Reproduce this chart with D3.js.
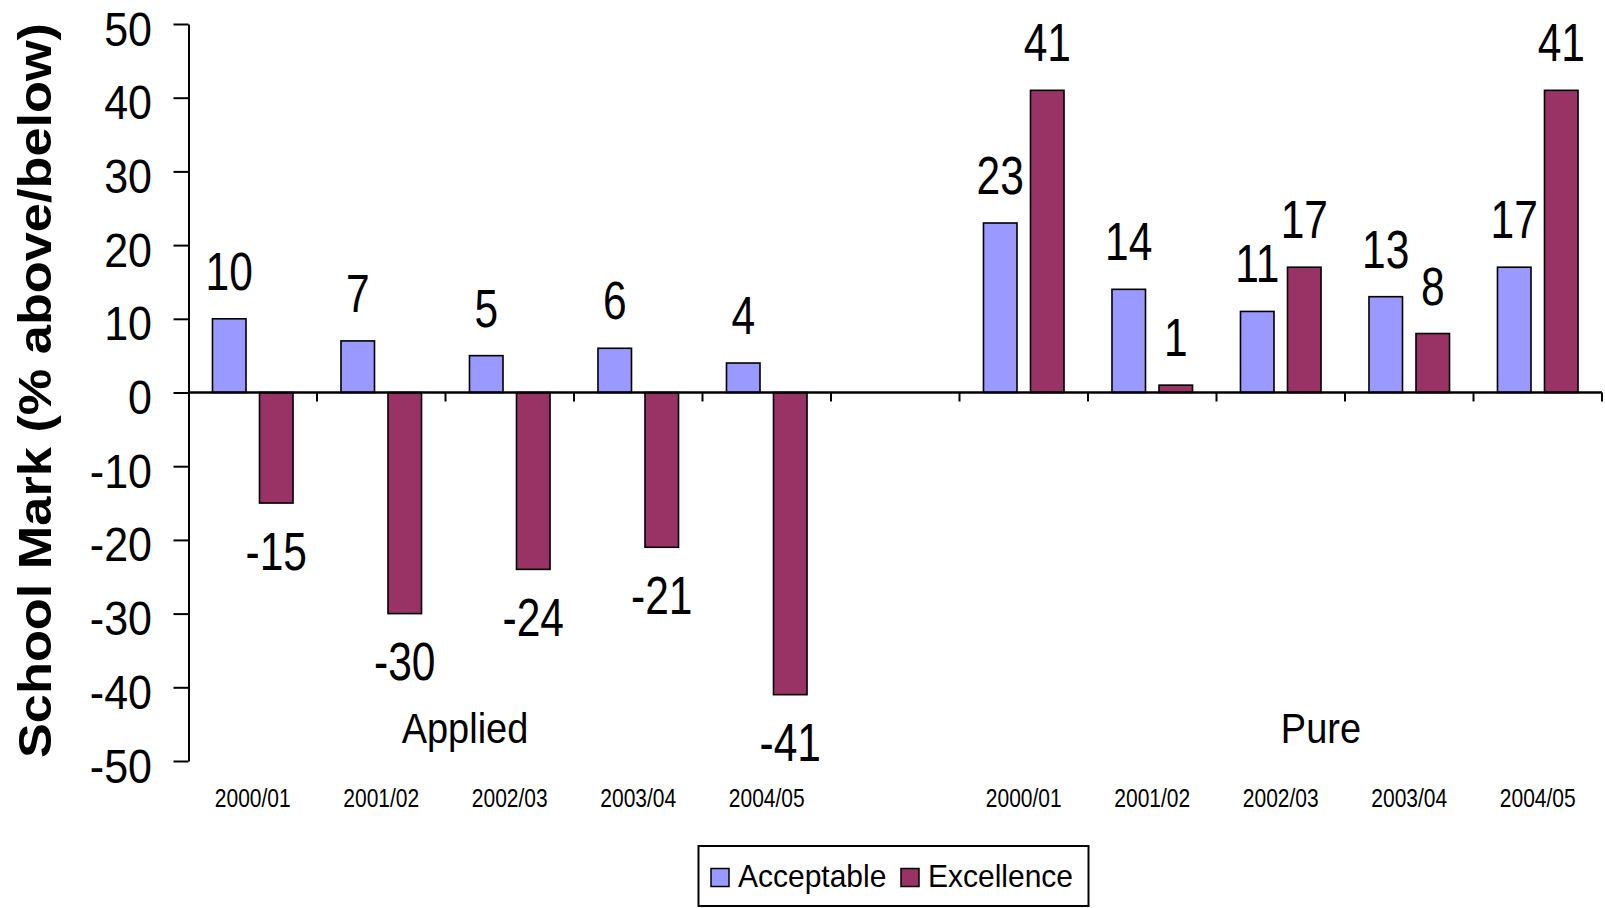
<!DOCTYPE html>
<html>
<head>
<meta charset="utf-8">
<script src="https://cdn.jsdelivr.net/npm/d3@7"></script>
<style>
  html, body { margin: 0; padding: 0; background: #ffffff; }
  svg { display: block; }
  text { font-family: "Liberation Sans", Arial, Helvetica, sans-serif; fill: #000; }
</style>
</head>
<body>
<svg id="chart" width="1605" height="908"></svg>
<script>
// ---- data ----
const categories = ["2000/01", "2001/02", "2002/03", "2003/04", "2004/05"];
const groups = ["Applied", "Pure"];
const series = ["Acceptable", "Excellence"];
const appliedAcceptable = [10, 7, 5, 6, 4];
const appliedExcellence = [-15, -30, -24, -21, -41];
const pureAcceptable = [23, 14, 11, 13, 17];
const pureExcellence = [41, 1, 17, 8, 41];
const yTickValues = [-50, -40, -30, -20, -10, 0, 10, 20, 30, 40, 50];
const yTitle = "School Mark (% above/below)";

// ---- layout ----
const plot = { left: 188.5, right: 1602, top: 24, bottom: 761 };
const colors = { Acceptable: "#9999ff", Excellence: "#993366" };
const groupLabelX = { Applied: 465, Pure: 1321 };
const groupLabelBaseline = 743;
const categoryLabelBaseline = 807;

// One slot per category per group, with an empty slot separating the groups.
const rows = [];
groups.forEach((g, gi) => {
  const acc = gi === 0 ? appliedAcceptable : pureAcceptable;
  const exc = gi === 0 ? appliedExcellence : pureExcellence;
  categories.forEach((c, i) => {
    rows.push({ key: g + "|" + c, group: g, category: c,
                values: [{ s: "Acceptable", v: acc[i] }, { s: "Excellence", v: exc[i] }] });
  });
});
const slotKeys = [];
rows.forEach((r, i) => {
  slotKeys.push(r.key);
  if (i === categories.length - 1) slotKeys.push("separator");
});

const svg = d3.select("#chart");

const x0 = d3.scaleBand().domain(slotKeys).range([plot.left, plot.right]).padding(0);
const x1 = d3.scaleBand().domain(series).range([0, x0.bandwidth()])
  .paddingInner(0.287).paddingOuter(0.51);
const y = d3.scaleLinear().domain([-50, 50]).range([plot.bottom, plot.top]);

// text drawn at a baseline, optionally stretched vertically
function label(parent, x, baseline, str, size, sy, anchor, weight) {
  const g = parent.append("g")
    .attr("transform", `translate(${x},${baseline}) scale(1,${sy})`);
  g.append("text")
    .attr("x", 0).attr("y", 0)
    .attr("text-anchor", anchor || "middle")
    .attr("font-size", size)
    .attr("font-weight", weight || "normal")
    .text(str);
  return g;
}

// ---- bars ----
const barLayer = svg.append("g");
rows.forEach(r => {
  const g = barLayer.append("g").attr("transform", `translate(${x0(r.key)},0)`);
  g.selectAll("rect").data(r.values).join("rect")
    .attr("x", d => x1(d.s))
    .attr("width", x1.bandwidth())
    .attr("y", d => y(Math.max(0, d.v)))
    .attr("height", d => Math.abs(y(d.v) - y(0)))
    .attr("fill", d => colors[d.s])
    .attr("stroke", "#000")
    .attr("stroke-width", 1.6);
});

// ---- y axis ----
const yAxis = d3.axisLeft(y).tickValues(yTickValues).tickSize(15).tickSizeOuter(0).tickFormat("");
const yG = svg.append("g").attr("transform", `translate(${plot.left},0)`).call(yAxis);
yG.select(".domain").attr("stroke", "#000").attr("stroke-width", 2);
yG.selectAll(".tick line").attr("stroke", "#000").attr("stroke-width", 2);
yTickValues.forEach(v => {
  label(svg, 152, y(v) + 21.5, String(v), 43, 1.1, "end");
});

// ---- x axis (zero line with ticks at category boundaries) ----
const xAxisG = svg.append("g");
xAxisG.append("line")
  .attr("x1", plot.left).attr("x2", plot.right)
  .attr("y1", y(0)).attr("y2", y(0))
  .attr("stroke", "#000").attr("stroke-width", 2.5);
xAxisG.selectAll("line.tick").data(slotKeys).join("line")
  .attr("class", "tick")
  .attr("x1", d => x0(d) + x0.step()).attr("x2", d => x0(d) + x0.step())
  .attr("y1", y(0)).attr("y2", y(0) + 9)
  .attr("stroke", "#000").attr("stroke-width", 2);

// ---- value labels ----
rows.forEach(r => {
  r.values.forEach(d => {
    const cx = x0(r.key) + x1(d.s) + x1.bandwidth() / 2;
    const base = d.v >= 0 ? y(d.v) - 29 : y(d.v) + 29 + 37.5;
    label(svg, cx, base, String(d.v), 42.5, 1.25, "middle");
  });
});

// ---- category labels ----
rows.forEach(r => {
  label(svg, x0(r.key) + x0.bandwidth() / 2, categoryLabelBaseline, r.category, 21, 1.2, "middle");
});

// ---- group labels ----
groups.forEach(g => {
  label(svg, groupLabelX[g], groupLabelBaseline, g, 38, 1.1, "middle");
});

// ---- y title ----
svg.append("text")
  .attr("transform", `translate(51,${(plot.top + plot.bottom) / 2 - 2}) rotate(-90)`)
  .attr("text-anchor", "middle")
  .attr("font-size", 47)
  .attr("font-weight", "bold")
  .attr("textLength", 735)
  .attr("lengthAdjust", "spacingAndGlyphs")
  .text(yTitle);

// ---- legend ----
const legend = svg.append("g");
legend.append("rect")
  .attr("x", 698.5).attr("y", 846).attr("width", 390).attr("height", 60)
  .attr("fill", "#fff").attr("stroke", "#000").attr("stroke-width", 2);
const legendItems = [
  { s: series[0], sx: 711, tx: 738 },
  { s: series[1], sx: 901, tx: 928 }
];
legendItems.forEach(it => {
  legend.append("rect")
    .attr("x", it.sx).attr("y", 868.5).attr("width", 18).attr("height", 18)
    .attr("fill", colors[it.s]).attr("stroke", "#000").attr("stroke-width", 1.5);
  label(legend, it.tx, 886.5, it.s, 30, 1.03, "start");
});
</script>
</body>
</html>
